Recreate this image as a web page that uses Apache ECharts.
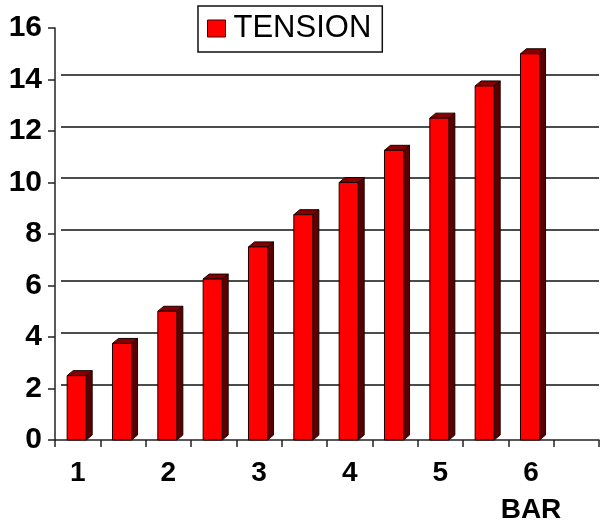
<!DOCTYPE html>
<html>
<head>
<meta charset="utf-8">
<script src="https://cdn.jsdelivr.net/npm/echarts@6/dist/echarts.min.js"></script>
<style>
  html, body { margin: 0; padding: 0; background: #fff; }
  #main { width: 602px; height: 524px; }
</style>
</head>
<body>
<div id="main"></div>
<script>
const chartDom = document.getElementById('main');
const myChart = echarts.init(chartDom);

// categories: one slot per bar, labels only every other slot, last slot empty
let categories = ['1', '', '2', '', '3', '', '4', '', '5', '', '6', ''];
// tension values
let tension = [2.5, 3.75, 5, 6.25, 7.5, 8.75, 10, 11.25, 12.5, 13.75, 15];
let yTicks = [0, 2, 4, 6, 8, 10, 12, 14, 16];

let seriesData = tension.map((v, i) => [i, v]);
const font = 'Liberation Sans, Arial, sans-serif';

// 3D look: back wall is shifted by the bar depth
const depthX = 6, depthY = 5;

// fake 3D bar: front face, dark side and top
function renderBar(params, api) {
    const top = api.coord([api.value(0), api.value(1)]);
    const base = api.coord([api.value(0), 0]);
    const slot = api.size([1, 0])[0];
    const w = slot * 0.42;
    const left = top[0] - w / 2 - 1;
    const right = left + w;
    const stroke = { stroke: '#1a0000', lineWidth: 1 };
    return {
        type: 'group',
        children: [
            {
                type: 'polygon',
                shape: { points: [[right, top[1]], [right + depthX, top[1] - depthY], [right + depthX, base[1] - depthY], [right, base[1]]] },
                style: Object.assign({ fill: '#5a0000' }, stroke)
            },
            {
                type: 'polygon',
                shape: { points: [[left, top[1]], [left + depthX, top[1] - depthY], [right + depthX, top[1] - depthY], [right, top[1]]] },
                style: Object.assign({ fill: '#850000' }, stroke)
            },
            {
                type: 'rect',
                shape: { x: left, y: top[1], width: w, height: base[1] - top[1] },
                style: Object.assign({ fill: '#ff0000' }, stroke)
            }
        ]
    };
}

let option = {
    backgroundColor: '#fff',
    animation: false,
    legend: {
        left: 198,
        top: 6,
        padding: [7, 11, 8, 9],
        borderColor: '#111',
        borderWidth: 1.5,
        itemWidth: 18,
        itemHeight: 17,
        data: [{ name: 'TENSION', icon: 'rect' }],
        itemStyle: { color: '#ff0000', borderColor: '#400000', borderWidth: 1 },
        textStyle: {
            fontFamily: font,
            fontSize: 31,
            color: '#000',
            padding: [0, 0, 0, 3]
        }
    },
    grid: [
        // front plane: axes, ticks, labels, bars
        { left: 55, right: 3, top: 28, bottom: 83 },
        // back wall: gridlines
        { left: 55 + depthX, right: 3, top: 28 - depthY, bottom: 83 + depthY }
    ],
    xAxis: [
        {
            type: 'category',
            gridIndex: 0,
            data: categories,
            boundaryGap: true,
            axisLine: { lineStyle: { color: '#222', width: 1.5 } },
            axisTick: { show: true, interval: 0, length: 7, lineStyle: { color: '#222', width: 1.5 } },
            axisLabel: {
                interval: 0,
                margin: 19,
                color: '#000',
                fontFamily: font,
                fontSize: 28,
                fontWeight: 'bold',
                formatter: function (v) {
                    return v === '6' ? '6\n{n|BAR}' : v;
                },
                rich: {
                    n: {
                        fontFamily: font,
                        fontSize: 28,
                        fontWeight: 'bold',
                        color: '#000',
                        lineHeight: 46
                    }
                }
            },
            splitLine: { show: false }
        },
        {
            type: 'category',
            gridIndex: 1,
            data: categories,
            show: false
        }
    ],
    yAxis: [
        {
            type: 'value',
            gridIndex: 0,
            min: yTicks[0],
            max: yTicks[yTicks.length - 1],
            interval: 2,
            axisLine: { show: true, lineStyle: { color: '#222', width: 1.5 } },
            axisTick: { show: true, length: 7, lineStyle: { color: '#222', width: 1.5 } },
            axisLabel: {
                margin: 13,
                color: '#000',
                fontFamily: font,
                fontSize: 30,
                fontWeight: 'bold'
            },
            splitLine: { show: false }
        },
        {
            type: 'value',
            gridIndex: 1,
            min: yTicks[0],
            max: yTicks[yTicks.length - 1],
            interval: 2,
            axisLine: { show: false },
            axisTick: { show: false },
            axisLabel: { show: false },
            splitLine: {
                show: true,
                showMinLine: false,
                showMaxLine: false,
                lineStyle: { color: '#111', width: 1.5 }
            }
        }
    ],
    series: [
        {
            name: 'TENSION',
            type: 'custom',
            xAxisIndex: 0,
            yAxisIndex: 0,
            renderItem: renderBar,
            itemStyle: { color: '#ff0000' },
            encode: { x: 0, y: 1 },
            data: seriesData,
            z: 5
        }
    ]
};

myChart.setOption(option);
</script>
</body>
</html>
